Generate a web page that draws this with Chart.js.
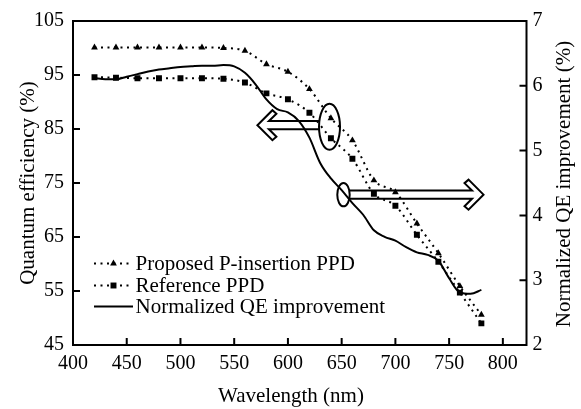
<!DOCTYPE html>
<html><head><meta charset="utf-8">
<script src="https://cdn.jsdelivr.net/npm/chart.js@4.4.0/dist/chart.umd.min.js"></script>
<style>html,body{margin:0;padding:0;background:#fff;}#wrap{width:581px;height:409px;position:relative;}</style>
</head><body><div id="wrap"><canvas id="c" width="581" height="409"></canvas></div>
<script>
// ---- data ----
const wavelengths = [420,440,460,480,500,520,540,560,580,600,620,640,660,680,700,720,740,760,780];
const proposedQE  = [100.1,100.1,100.1,100.1,100.1,100.1,100.0,99.5,97.0,95.6,92.4,87.0,82.9,75.5,73.3,67.5,62.0,55.9,50.6];
const referenceQE = [94.6,94.5,94.4,94.4,94.4,94.4,94.3,93.6,91.6,90.5,88.0,83.3,79.5,73.0,70.8,65.4,60.4,54.7,49.0];
const improvementWavelengths = [420,430,440,450,460,470,480,490,500,510,520,530,540,550,560,570,580,590,600,610,620,630,640,650,660,670,680,690,700,710,720,730,740,750,760,770,780];
const improvementQE = [6.12,6.10,6.10,6.14,6.18,6.22,6.25,6.27,6.29,6.30,6.31,6.31,6.32,6.30,6.20,6.02,5.79,5.64,5.59,5.46,5.20,4.81,4.57,4.39,4.19,4.01,3.77,3.67,3.61,3.51,3.43,3.39,3.30,3.03,2.81,2.79,2.85];
const xTicks = [400,450,500,550,600,650,700,750,800];
const leftTicks = [45,55,65,75,85,95,105];
const rightTicks = [2,3,4,5,6,7];
const seriesLabels = ['Proposed P-insertion PPD','Reference PPD','Normalized QE improvement'];
const xTitle = 'Wavelength (nm)';
const leftTitle = 'Quantum efficiency (%)';
const rightTitle = 'Normalized QE improvement (%)';
// callouts (ellipse + arrow) in data units
const calloutLeft  = {axis:'y',  cx:638.7, cy:85.4, arrowY:85.7, tipX:571.6};
const calloutRight = {axis:'y2', cx:651.7, cy:4.32, arrowY:4.32, tipX:782};

// ---- styling ----
const FONT = "'Liberation Serif','Times New Roman',serif";
const DOT = [2,4.5];

function pts(xs, ys){ return xs.map((x,i)=>({x:x,y:ys[i]})); }
function fixTicks(list){ return s => { s.ticks = list.map(v=>({value:v})); }; }

function drawMarker(ctx, style, x, y, r){
  ctx.save(); ctx.fillStyle='#000'; ctx.beginPath();
  if(style==='triangle'){
    ctx.moveTo(x, y - r);
    ctx.lineTo(x + r*Math.sin(2*Math.PI/3), y - r*Math.cos(2*Math.PI/3));
    ctx.lineTo(x + r*Math.sin(4*Math.PI/3), y - r*Math.cos(4*Math.PI/3));
    ctx.closePath();
  } else if(style==='rect'){
    const s = r*Math.SQRT1_2; ctx.rect(x-s, y-s, 2*s, 2*s);
  }
  ctx.fill(); ctx.restore();
}

const overlay = {
  id:'overlay',
  afterDraw(chart){
    const ctx = chart.ctx, a = chart.chartArea;
    const sx = chart.scales.x, sy = chart.scales.y, sy2 = chart.scales.y2;
    ctx.save();
    ctx.strokeStyle='#000'; ctx.fillStyle='#000'; ctx.lineWidth=2; ctx.setLineDash([]);
    // frame
    ctx.strokeRect(a.left, a.top, a.right-a.left, a.bottom-a.top);
    // inward ticks
    const TL = 7;
    ctx.beginPath();
    sx.ticks.forEach(t=>{ const p = sx.getPixelForValue(t.value); ctx.moveTo(p, a.bottom); ctx.lineTo(p, a.bottom-TL); });
    sy.ticks.forEach(t=>{ const p = sy.getPixelForValue(t.value); ctx.moveTo(a.left, p); ctx.lineTo(a.left+TL, p); });
    sy2.ticks.forEach(t=>{ const p = sy2.getPixelForValue(t.value); ctx.moveTo(a.right, p); ctx.lineTo(a.right-TL, p); });
    ctx.stroke();

    // callouts
    function callout(c, rx, ry, dir){
      const ys = chart.scales[c.axis];
      const cx = sx.getPixelForValue(c.cx), cy = ys.getPixelForValue(c.cy);
      ctx.beginPath(); ctx.ellipse(cx, cy, rx, ry, 0, 0, 2*Math.PI); ctx.stroke();
      const ay = ys.getPixelForValue(c.arrowY);
      const tip = sx.getPixelForValue(c.tipX);
      const tail = cx + dir*rx;
      const hw = 4.1;
      const P = (t, s) => [tip - dir*t, ay + s];
      const path = [[tail, ay-hw], P(11.5,-hw), P(19,-11.5), P(15,-15), P(0,0), P(15,15), P(19,11.5), P(11.5,hw), [tail, ay+hw]];
      ctx.beginPath(); ctx.moveTo(path[0][0], path[0][1]);
      for(let i=1;i<path.length;i++) ctx.lineTo(path[i][0], path[i][1]);
      ctx.stroke();
    }
    callout(calloutLeft, 10.5, 23, -1);
    callout(calloutRight, 6.2, 11.7, 1);

    // legend
    const rows = [263.5, 285.5, 306.5];
    chart.data.datasets.forEach((ds, i)=>{
      const y = rows[i];
      ctx.lineWidth = 2; ctx.setLineDash(ds.borderDash || []);
      ctx.beginPath(); ctx.moveTo(94, y); ctx.lineTo(133, y); ctx.stroke();
      ctx.setLineDash([]);
      if(ds.pointRadius>0) drawMarker(ctx, ds.pointStyle, 113.5, y, ds.pointRadius);
      ctx.font = '21px ' + FONT; ctx.textAlign='left'; ctx.textBaseline='middle';
      ctx.fillText(ds.label, 135.5, y+0.5);
    });

    // axis titles
    ctx.font = '21px ' + FONT; ctx.textBaseline='alphabetic'; ctx.textAlign='center';
    ctx.fillText(xTitle, 291, 401.5);
    ctx.save(); ctx.translate(34, (a.top+a.bottom)/2); ctx.rotate(-Math.PI/2);
    ctx.fillText(leftTitle, 0, 0); ctx.restore();
    ctx.save(); ctx.translate(569.5, (a.top+a.bottom)/2 + 1); ctx.rotate(-Math.PI/2);
    ctx.fillText(rightTitle, 0, 0); ctx.restore();
    ctx.restore();
  }
};

const tickFont = {family:FONT, size:20};
new Chart(document.getElementById('c').getContext('2d'), {
  type:'line',
  data:{datasets:[
    {label:seriesLabels[0], data:pts(wavelengths, proposedQE), yAxisID:'y',
     borderColor:'#000', borderWidth:2, borderDash:DOT, cubicInterpolationMode:'monotone',
     pointStyle:'triangle', pointRadius:3.9, pointBackgroundColor:'#000', pointBorderColor:'#000', pointBorderWidth:0},
    {label:seriesLabels[1], data:pts(wavelengths, referenceQE), yAxisID:'y',
     borderColor:'#000', borderWidth:2, borderDash:DOT, cubicInterpolationMode:'monotone',
     pointStyle:'rect', pointRadius:4.2, pointBackgroundColor:'#000', pointBorderColor:'#000', pointBorderWidth:0},
    {label:seriesLabels[2], data:pts(improvementWavelengths, improvementQE), yAxisID:'y2',
     borderColor:'#000', borderWidth:2, cubicInterpolationMode:'monotone', pointRadius:0}
  ]},
  options:{
    responsive:false, animation:false, devicePixelRatio:1,
    layout:{padding:{top:16,left:0,right:0,bottom:0}},
    plugins:{legend:{display:false}, tooltip:{enabled:false}, title:{display:false}},
    scales:{
      x:{type:'linear', min:400, max:822, afterBuildTicks:fixTicks(xTicks), afterFit:s=>{s.height=64;},
         grid:{display:false, drawTicks:false}, border:{display:false},
         ticks:{color:'#000', font:tickFont, padding:7, maxRotation:0, autoSkip:false}},
      y:{position:'left', min:45, max:105, afterBuildTicks:fixTicks(leftTicks), afterFit:s=>{s.width=73;},
         grid:{display:false, drawTicks:false}, border:{display:false},
         ticks:{color:'#000', font:tickFont, padding:9, autoSkip:false}},
      y2:{position:'right', min:2, max:7, afterBuildTicks:fixTicks(rightTicks), afterFit:s=>{s.width=54.5;},
         grid:{display:false, drawTicks:false}, border:{display:false},
         ticks:{color:'#000', font:tickFont, padding:6, autoSkip:false}}
    }
  },
  plugins:[overlay]
});
</script></body></html>
